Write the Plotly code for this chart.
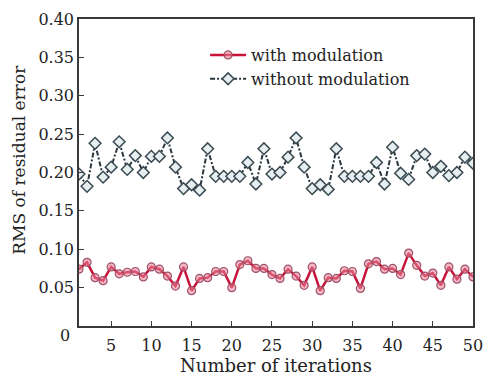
import plotly.graph_objects as go

iterations = list(range(1, 51))
with_mod = [0.074, 0.083, 0.063, 0.059, 0.077, 0.068, 0.070, 0.071, 0.064, 0.077,
            0.074, 0.065, 0.052, 0.077, 0.046, 0.062, 0.063, 0.071, 0.071, 0.050,
            0.080, 0.085, 0.075, 0.075, 0.067, 0.062, 0.074, 0.065, 0.053, 0.077,
            0.046, 0.063, 0.062, 0.072, 0.071, 0.049, 0.081, 0.084, 0.074, 0.075,
            0.067, 0.095, 0.079, 0.065, 0.069, 0.053, 0.077, 0.061, 0.074, 0.064]
without_mod = [0.198, 0.182, 0.238, 0.194, 0.207, 0.240, 0.204, 0.222, 0.200, 0.221,
               0.221, 0.245, 0.207, 0.179, 0.184, 0.177, 0.231, 0.195, 0.195, 0.195,
               0.195, 0.213, 0.185, 0.231, 0.198, 0.200, 0.220, 0.245, 0.207, 0.179,
               0.184, 0.178, 0.231, 0.195, 0.195, 0.195, 0.195, 0.213, 0.185, 0.233,
               0.199, 0.191, 0.222, 0.224, 0.200, 0.208, 0.196, 0.200, 0.220, 0.212]
x_ticks = [5, 10, 15, 20, 25, 30, 35, 40, 45, 50]
y_ticks = [0.05, 0.10, 0.15, 0.20, 0.25, 0.30, 0.35, 0.40]
y_tick_text = ["0.05", "0.10", "0.15", "0.20", "0.25", "0.30", "0.35", "0.40"]

FONT = "DejaVu Serif"
TXT = "#222"

fig = go.Figure()
fig.add_trace(go.Scatter(
    x=iterations, y=with_mod, mode="lines+markers", name="with modulation",
    line=dict(color="#c8143a", width=2.5),
    marker=dict(symbol="circle", size=8, color="rgba(235,130,150,0.55)",
                line=dict(color="#a0506a", width=1.2)),
))
fig.add_trace(go.Scatter(
    x=iterations, y=without_mod, mode="lines+markers", name="without modulation",
    line=dict(color="#2b363c", width=2, dash="5px,2px,2px,2px"),
    marker=dict(symbol="diamond", size=9, color="#e6eef0",
                line=dict(color="#3a4a52", width=1.5)),
))

axis_common = dict(
    showline=True, linecolor="#3a3a3a", linewidth=1.5, mirror=True,
    showgrid=False, zeroline=False, ticks="inside", ticklen=5,
    tickcolor="#3a3a3a", tickwidth=1.2,
    tickfont=dict(family=FONT, size=16, color=TXT),
)
fig.update_xaxes(range=[1, 50], tickvals=x_ticks, ticklabelstandoff=4, **axis_common,
                 title=dict(text="Number of iterations",
                            font=dict(family=FONT, size=18, color=TXT), standoff=2))
fig.update_yaxes(range=[0, 0.40], tickvals=y_ticks, ticktext=y_tick_text, **axis_common)

fig.add_annotation(text="RMS of residual error", x=-0.151, y=0.54, xref="paper", yref="paper",
                   showarrow=False, textangle=-90, xanchor="center", yanchor="middle",
                   font=dict(family=FONT, size=17, color=TXT))
fig.add_annotation(text="0", x=-0.035, y=-0.03, xref="paper", yref="paper",
                   showarrow=False, xanchor="center", yanchor="middle",
                   font=dict(family=FONT, size=16, color=TXT))

fig.update_layout(
    width=492, height=379,
    margin=dict(l=79, r=9, t=19, b=47),
    paper_bgcolor="white", plot_bgcolor="white",
    showlegend=True,
    legend=dict(x=0.32, y=0.938, xanchor="left", yanchor="top",
                font=dict(family=FONT, size=16, color=TXT),
                bgcolor="rgba(0,0,0,0)", itemwidth=36, tracegroupgap=0),
)

fig.write_html("out.html")
